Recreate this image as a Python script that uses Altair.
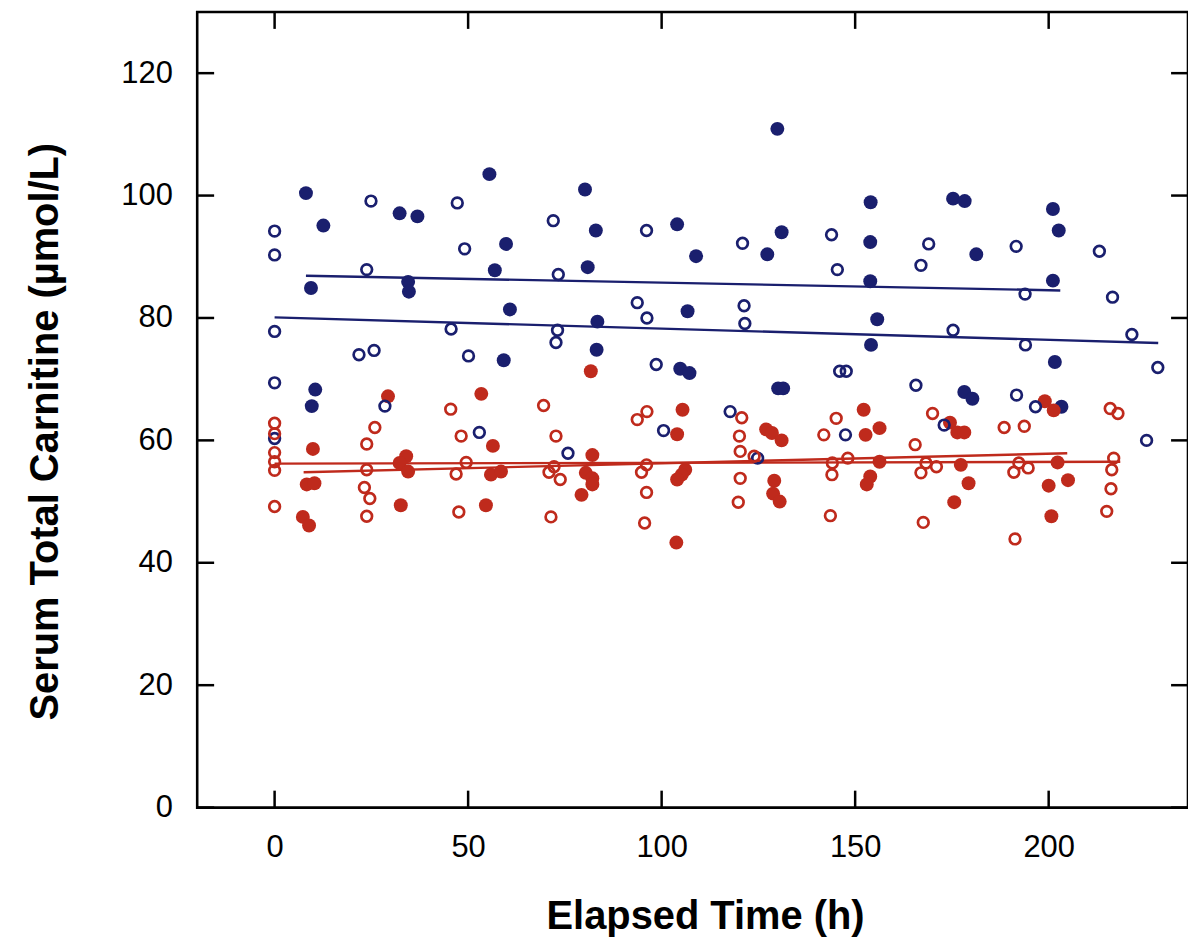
import altair as alt
import pandas as pd

# ---------------- data ----------------
# Blue, filled circles
bf_x = [8.1, 12.6, 9.4, 32.3, 36.9, 34.5, 34.7, 55.5, 59.8, 56.9, 80.2, 83.0, 80.9,
        104.0, 108.9, 127.3, 129.9, 131.0, 154.0, 153.9, 153.9, 175.3, 178.3, 181.3,
        201.1, 202.6, 201.1, 10.5, 9.6, 59.2, 60.8, 83.4, 83.2, 106.7, 104.8, 107.2,
        130.1, 131.4, 155.7, 154.1, 201.6, 178.2, 180.3, 203.3]
bf_y = [100.4, 95.1, 84.9, 97.1, 96.6, 85.9, 84.3, 103.5, 92.1, 87.8, 101.0, 94.3, 88.3,
        95.3, 90.1, 90.4, 110.9, 94.0, 98.9, 92.4, 86.0, 99.5, 99.1, 90.4,
        97.8, 94.3, 86.1, 68.3, 65.6, 73.1, 81.4, 79.4, 74.8, 81.1, 71.7, 71.0,
        68.5, 68.5, 79.8, 75.6, 72.8, 67.9, 66.8, 65.5]

# Blue, open circles
bo_x = [0, 0, 24.9, 23.8, 47.2, 49.1, 72.0, 73.3, 96.1, 120.9, 143.9, 145.4, 169.0,
        167.0, 191.6, 213.1, 193.9, 216.5, 0, 0, 0, 21.8, 25.7, 45.6, 50.1, 28.5, 52.9,
        73.1, 72.7, 93.7, 96.2, 121.3, 121.5, 98.6, 146.0, 147.7, 117.7, 100.5, 147.5,
        75.8, 124.8, 175.3, 194.0, 221.5, 228.2, 165.7, 191.7, 196.6, 173.0, 225.3]
bo_y = [94.2, 90.3, 99.1, 87.9, 98.8, 91.3, 95.9, 87.1, 94.3, 92.2, 93.6, 87.9, 92.1,
        88.6, 91.7, 90.9, 83.9, 83.4, 77.8, 69.4, 60.3, 74.0, 74.7, 78.2, 73.8, 65.6, 61.3,
        78.0, 76.0, 82.5, 80.0, 82.0, 79.1, 72.4, 71.3, 71.3, 64.7, 61.6, 60.9,
        57.9, 57.1, 78.0, 75.6, 77.3, 71.9, 69.0, 67.4, 65.5, 62.5, 60.0]

# Red, filled circles
rf_x = [29.3, 53.4, 9.9, 56.4, 34.0, 32.3, 34.5, 55.9, 58.5, 8.3, 10.3, 32.6, 54.6, 7.3, 8.9,
        81.7, 105.4, 104.0, 127.0, 128.5, 131.0, 82.1, 80.4, 82.1, 82.1, 79.3, 106.1, 105.2,
        104.0, 103.8, 129.1, 128.8, 130.5,
        199.0, 201.3, 152.2, 174.5, 176.4, 178.2, 152.7, 156.3, 156.3, 177.3, 202.3, 153.9,
        153.0, 179.3, 200.0, 205.0, 175.6, 200.7]
rf_y = [67.2, 67.6, 58.6, 59.1, 57.4, 56.3, 54.9, 54.4, 54.9, 52.8, 53.0, 49.4, 49.4, 47.5, 46.1,
        71.3, 65.0, 61.0, 61.8, 61.2, 60.0, 57.6, 54.7, 53.8, 52.8, 51.1, 55.2, 54.4,
        53.6, 43.3, 53.4, 51.3, 50.0,
        66.4, 64.9, 65.0, 62.9, 61.3, 61.3, 60.9, 62.0, 56.5, 56.0, 56.4, 54.1,
        52.8, 53.0, 52.6, 53.5, 49.9, 47.6]

# Red, open circles
ro_x = [0, 0, 0, 0, 0, 0, 45.5, 25.9, 23.8, 48.2, 23.8, 49.5, 46.9, 23.2, 24.6, 23.8, 47.6,
        69.5, 93.7, 96.2, 120.7, 72.7, 120.1, 141.9, 145.1, 120.3, 123.9, 72.2, 70.9, 73.8,
        96.1, 94.8, 96.1, 71.4, 95.6, 120.3, 119.8, 144.1, 144.0, 148.1, 143.6,
        215.9, 217.9, 170.0, 165.5, 188.5, 193.7, 168.3, 171.0, 167.0, 192.3, 194.7, 191.0,
        216.8, 216.3, 216.1, 215.0, 167.6, 191.3]
ro_y = [62.8, 61.1, 58.0, 56.5, 55.1, 49.2, 65.1, 62.1, 59.4, 60.7, 55.2, 56.4, 54.5, 52.3, 50.5, 47.6, 48.3,
        65.7, 63.4, 64.7, 63.7, 60.7, 60.7, 60.9, 63.6, 58.2, 57.4, 55.7, 54.8, 53.6,
        56.0, 54.8, 51.5, 47.5, 46.5, 53.8, 49.9, 56.3, 54.4, 57.1, 47.7,
        65.2, 64.4, 64.4, 59.3, 62.1, 62.3, 56.3, 55.7, 54.7, 56.3, 55.5, 54.8,
        57.1, 55.2, 52.1, 48.4, 46.6, 43.9]

# Fitted lines (start/end)
line_series = ["Blue filled", "Blue open", "Red filled", "Red open"]
line_x0 = [8.1, 0.0, 7.5, 0.0]
line_x1 = [203.0, 228.3, 204.8, 218.5]
line_y0 = [86.9, 80.1, 54.8, 56.2]
line_y1 = [84.5, 75.9, 57.9, 56.5]

x_ticks = [0, 50, 100, 150, 200]
y_ticks = [0, 20, 40, 60, 80, 100, 120]

# ---------------- tables ----------------
def pts(xs, ys, name):
    return pd.DataFrame({"t": xs, "c": ys, "series": name})

filled_df = pd.concat([pts(bf_x, bf_y, "Blue filled"), pts(rf_x, rf_y, "Red filled")])
open_df = pd.concat([pts(bo_x, bo_y, "Blue open"), pts(ro_x, ro_y, "Red open")])

line_rows = []
for s, a, b, c, d in zip(line_series, line_x0, line_x1, line_y0, line_y1):
    line_rows.append({"t": a, "c": c, "series": s})
    line_rows.append({"t": b, "c": d, "series": s})
line_df = pd.DataFrame(line_rows)

xt_df = pd.DataFrame({"t": x_ticks})
yt_df = pd.DataFrame({"c": y_ticks})

# ---------------- styling ----------------
W, H = 995, 799
TICK = 17
FONT = "Liberation Sans, Arial, Helvetica, sans-serif"
BLUE = "#1a1f6e"
RED = "#ad1a1a"
RED_LINE = "#bf2a1c"

color_scale = alt.Scale(
    domain=["Blue filled", "Blue open", "Red filled", "Red open"],
    range=[BLUE, BLUE, RED, RED],
)
line_color_scale = alt.Scale(
    domain=["Blue filled", "Blue open", "Red filled", "Red open"],
    range=[BLUE, BLUE, RED_LINE, RED_LINE],
)

x_scale = alt.Scale(domain=[-20, 236], nice=False, zero=False)
y_scale = alt.Scale(domain=[0, 130], nice=False, zero=False)

x_axis = alt.Axis(
    values=x_ticks, title="Elapsed Time (h)", grid=False, domain=False, ticks=False,
    tickSize=0, labelFontSize=31, labelPadding=25, labelFont=FONT, labelColor="black",
    titleFont=FONT, titleFontSize=40, titleFontWeight="bold", titleColor="black",
    titleX=510, titleY=121, titleBaseline="alphabetic", titleAlign="center",
)
y_axis = alt.Axis(
    values=y_ticks, title="Serum Total Carnitine (µmol/L)", grid=False, domain=False,
    ticks=False, tickSize=0, labelFontSize=31, labelPadding=25, labelFont=FONT,
    labelColor="black", titleFont=FONT, titleFontSize=40, titleFontWeight="bold",
    titleColor="black", titleAngle=270, titleX=-140, titleY=421,
    titleBaseline="alphabetic", titleAlign="center",
)

X = alt.X("t:Q", scale=x_scale, axis=x_axis)
Y = alt.Y("c:Q", scale=y_scale, axis=y_axis)

lines = alt.Chart(line_df).mark_line(strokeWidth=2.4).encode(
    x=X, y=Y, detail="series:N",
    color=alt.Color("series:N", scale=line_color_scale, legend=None),
)

filled = alt.Chart(filled_df).mark_point(filled=True, size=196, opacity=1, strokeWidth=0).encode(
    x=X, y=Y, color=alt.Color("series:N", scale=color_scale, legend=None),
)

open_pts = alt.Chart(open_df).mark_point(filled=False, size=115, opacity=1, strokeWidth=2.7).encode(
    x=X, y=Y, color=alt.Color("series:N", scale=color_scale, legend=None),
)

tick_style = dict(color="black", strokeWidth=2.5)
left_ticks = alt.Chart(yt_df).mark_rule(**tick_style).encode(
    y=Y, x=alt.value(0), x2=alt.value(TICK))
right_ticks = alt.Chart(yt_df).mark_rule(**tick_style).encode(
    y=Y, x=alt.value(W - TICK), x2=alt.value(W))
bottom_ticks = alt.Chart(xt_df).mark_rule(**tick_style).encode(
    x=X, y=alt.value(H), y2=alt.value(H - TICK))
top_ticks = alt.Chart(xt_df).mark_rule(**tick_style).encode(
    x=X, y=alt.value(0), y2=alt.value(TICK))

chart = alt.layer(
    lines, filled, open_pts, left_ticks, right_ticks, bottom_ticks, top_ticks
).properties(
    width=W, height=H,
    padding={"left": 190, "top": 2, "right": 0, "bottom": 133},
    autosize=alt.AutoSizeParams(type="none"),
    background="white",
).configure_view(
    stroke="black", strokeWidth=2.6,
)

chart.save("out.html", embed_options={"renderer": "svg", "actions": False})
